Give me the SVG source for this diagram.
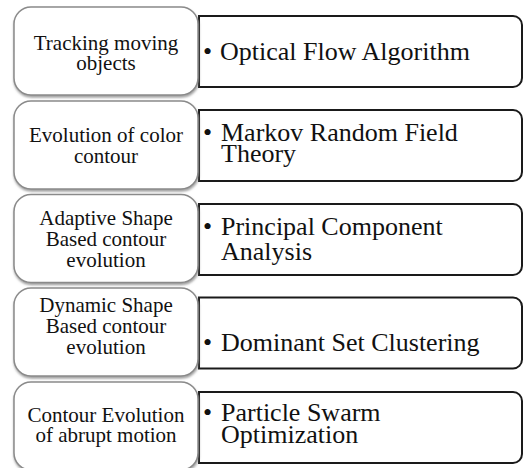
<svg xmlns="http://www.w3.org/2000/svg" width="524" height="468" viewBox="0 0 524 468">
  <defs>
    <filter id="shadow" x="-10%" y="-10%" width="120%" height="130%">
      <feDropShadow dx="0.5" dy="2" stdDeviation="1.2" flood-color="#7a7a7a" flood-opacity="0.7"/>
    </filter>
  </defs>
  <style>
    .topic { fill: #ffffff; stroke: #8a8a8a; stroke-width: 1.5; filter: url(#shadow); }
    .detail { fill: #ffffff; stroke: #1a1a1a; stroke-width: 2; }
    .lt { font-size: 21px; fill: #111; text-anchor: middle; }
    .rt { font-size: 26px; fill: #111; }
  </style>
  <rect width="524" height="468" fill="#ffffff"/>

  <g font-family="Liberation Serif, Tinos, Times New Roman, Times, serif">
  <!-- Row 1 -->
  <g id="row1-detail">
    <path class="detail" d="M199 16 H513 A9 9 0 0 1 522 25 V78 A9 9 0 0 1 513 87 H199 Z"/>
    <text class="rt" x="203" y="60">•</text>
    <text class="rt" x="220" y="60">Optical Flow Algorithm</text>
  </g>
  <g id="row1-topic">
    <rect class="topic" x="14" y="7" width="184" height="88" rx="17"/>
    <text class="lt" x="106" y="50">Tracking moving<tspan x="106" dy="19.5">objects</tspan></text>
  </g>

  <!-- Row 2 -->
  <g id="row2-detail">
    <path class="detail" d="M199 110 H513 A9 9 0 0 1 522 119 V172 A9 9 0 0 1 513 181 H199 Z"/>
    <text class="rt" x="203" y="140.5">•</text>
    <text class="rt" x="221" y="140.5">Markov Random Field<tspan x="221" dy="21">Theory</tspan></text>
  </g>
  <g id="row2-topic">
    <rect class="topic" x="14" y="101" width="184" height="88" rx="17"/>
    <text class="lt" x="106" y="141.5">Evolution of color<tspan x="106" dy="21">contour</tspan></text>
  </g>

  <!-- Row 3 -->
  <g id="row3-detail">
    <path class="detail" d="M199 204 H513 A9 9 0 0 1 522 213 V266 A9 9 0 0 1 513 275 H199 Z"/>
    <text class="rt" x="203" y="234.5">•</text>
    <text class="rt" x="221" y="234.5">Principal Component<tspan x="221" dy="25">Analysis</tspan></text>
  </g>
  <g id="row3-topic">
    <rect class="topic" x="14" y="194.5" width="184" height="88" rx="17"/>
    <text class="lt" x="106" y="224.5">Adaptive Shape<tspan x="106" dy="21">Based contour</tspan><tspan x="106" dy="21">evolution</tspan></text>
  </g>

  <!-- Row 4 -->
  <g id="row4-detail">
    <path class="detail" d="M199 297.5 H513 A9 9 0 0 1 522 306.5 V359.5 A9 9 0 0 1 513 368.5 H199 Z"/>
    <text class="rt" x="203" y="350.5">•</text>
    <text class="rt" x="221" y="350.5">Dominant Set Clustering</text>
  </g>
  <g id="row4-topic">
    <rect class="topic" x="14" y="288" width="184" height="88" rx="17"/>
    <text class="lt" x="106" y="311.5">Dynamic Shape<tspan x="106" dy="21">Based contour</tspan><tspan x="106" dy="21">evolution</tspan></text>
  </g>

  <!-- Row 5 -->
  <g id="row5-detail">
    <path class="detail" d="M199 392 H513 A9 9 0 0 1 522 401 V454 A9 9 0 0 1 513 463 H199 Z"/>
    <text class="rt" x="203" y="421">•</text>
    <text class="rt" x="221" y="421">Particle Swarm<tspan x="221" dy="22">Optimization</tspan></text>
  </g>
  <g id="row5-topic">
    <rect class="topic" x="14" y="382" width="184" height="88" rx="17"/>
    <text class="lt" x="106" y="421.5">Contour Evolution<tspan x="106" dy="20.5">of abrupt motion</tspan></text>
  </g>
  </g>

  <!-- no connectors between the paired boxes -->
  <g id="connectors"/>
</svg>
